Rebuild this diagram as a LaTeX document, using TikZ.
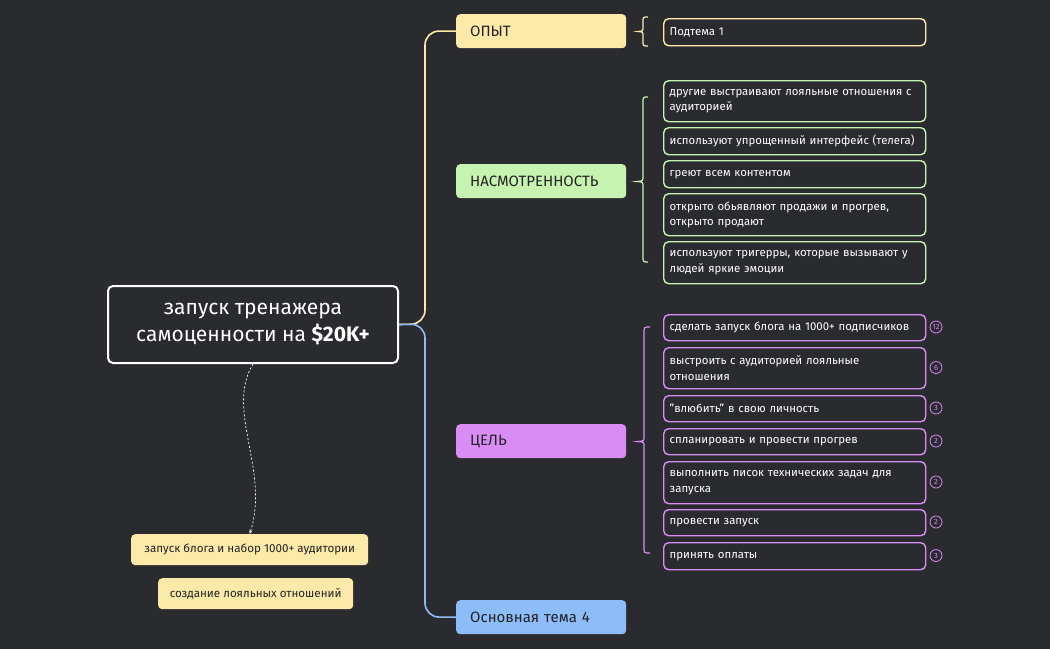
\documentclass[tikz,border=0pt]{standalone}
\usepackage{fontspec}
\setmainfont{Fira Sans}
\usetikzlibrary{arrows.meta}
\definecolor{bg}{HTML}{2A2B2F}
\definecolor{cy}{HTML}{FDEAA8}
\definecolor{cg}{HTML}{C6F3B0}
\definecolor{cp}{HTML}{D98CF5}
\definecolor{cb}{HTML}{8DBDF8}
\definecolor{dk}{HTML}{222222}
\begin{document}
\begin{tikzpicture}[x=1pt,y=-1pt,
  main/.style={anchor=north west,minimum width=170pt,minimum height=34pt,rounded corners=4pt,inner xsep=14pt,text width=142pt,align=left,text=dk,font=\fontsize{15}{16}\selectfont},
  child/.style={anchor=north west,draw=#1,line width=1.4pt,fill=bg,rounded corners=5pt,minimum width=262pt,inner xsep=6pt,text width=250pt,align=left,text=white,font=\fontsize{11.4}{15.5}\selectfont},
  float/.style={anchor=north west,fill=cy,rounded corners=4pt,text=dk,font=\fontsize{11.6}{12}\selectfont,align=center},
  badge/.style={circle,draw=cp,line width=0.8pt,minimum size=12pt,inner sep=0pt,text=cp,font=\fontsize{7.5}{7.5}\selectfont},
  conn/.style={line width=1.6pt,rounded corners=14pt},
  br/.style={line width=1.2pt}]
\useasboundingbox[fill=bg] (0,0) rectangle (1050,649);
% root
\node[draw=white,line width=2pt,fill=bg,rounded corners=5pt,minimum width=290pt,minimum height=77pt,text=white,align=center,font=\fontsize{21}{27}\selectfont] (root) at (253,324.5) {запуск тренажера\\самоценности на \textbf{\$20K+}};
% main topics
\node[main,fill=cy] (t1) at (456,14) {ОПЫТ};
\node[main,fill=cg] (t2) at (456,164) {НАСМОТРЕННОСТЬ};
\node[main,fill=cp] (t3) at (456,424) {ЦЕЛЬ};
\node[main,fill=cb] (t4) at (456,600) {Основная тема 4};
% connectors
\draw[conn,cy] (root.east) -- (425,324) -- (425,31) -- (t1.west);
\draw[conn,cb] (root.east) -- (425,324) -- (425,617) -- (t4.west);
% children
\node[child=cy,minimum height=27pt] (a1) at (663,18) {Подтема 1};
\node[child=cg,minimum height=41pt] (g1) at (663,80) {другие выстраивают лояльные отношения с\\аудиторией};
\node[child=cg,minimum height=27pt] (g2) at (663,127) {используют упрощенный интерфейс (телега)};
\node[child=cg,minimum height=27pt] (g3) at (663,160) {греют всем контентом};
\node[child=cg,minimum height=42pt] (g4) at (663,193) {открыто обьявляют продажи и прогрев,\\открыто продают};
\node[child=cg,minimum height=42pt] (g5) at (663,241) {используют тригерры, которые вызывают у\\людей яркие эмоции};
\node[child=cp,minimum height=26pt] (p1) at (663,314) {сделать запуск блога на 1000+ подписчиков};
\node[child=cp,minimum height=41pt] (p2) at (663,347) {выстроить с аудиторией лояльные\\отношения};
\node[child=cp,minimum height=26pt] (p3) at (663,395) {"влюбить" в свою личность};
\node[child=cp,minimum height=26pt] (p4) at (663,428) {спланировать и провести прогрев};
\node[child=cp,minimum height=42pt] (p5) at (663,461) {выполнить писок технических задач для\\запуска};
\node[child=cp,minimum height=26pt] (p6) at (663,509) {провести запуск};
\node[child=cp,minimum height=27pt] (p7) at (663,542) {принять оплаты};
% badges
\node[badge] (b1) at (936,327) {12};
\node[badge] (b2) at (936,367.5) {6};
\node[badge] (b3) at (936,408) {3};
\node[badge] (b4) at (936,441) {2};
\node[badge] (b5) at (936,482) {2};
\node[badge] (b6) at (936,522) {2};
\node[badge] (b7) at (936,555.5) {3};
% braces
\draw[br,cy] (648,17) .. controls (643,17) .. (643,22) -- (643,27) .. controls (643,31) .. (638,31.5) .. controls (643,32) .. (643,36) -- (643,41) .. controls (643,46) .. (648,46);
\draw[br,cg] (648,97) .. controls (643,97) .. (643,103) -- (643,176) .. controls (643,181) .. (637,181.5) .. controls (643,182) .. (643,187) -- (643,256) .. controls (643,262) .. (648,262);
\draw[br,cp] (650,327) .. controls (644,327) .. (644,333) -- (644,436) .. controls (644,441) .. (638,441.5) .. controls (644,442) .. (644,447) -- (644,547) .. controls (644,553) .. (650,553);
% floating topics
\node[float,minimum width=237pt,minimum height=31pt] (f1) at (131,534) {запуск блога и набор 1000+ аудитории};
\node[float,minimum width=195pt,minimum height=31pt] (f2) at (158,578) {создание лояльных отношений};
\draw[white,dashed,line width=0.7pt,dash pattern=on 2pt off 2pt,-{Stealth[length=4pt,width=3pt]}] (root.south) .. controls (225,410) and (270,470) .. (f1.north);
\end{tikzpicture}
\end{document}
